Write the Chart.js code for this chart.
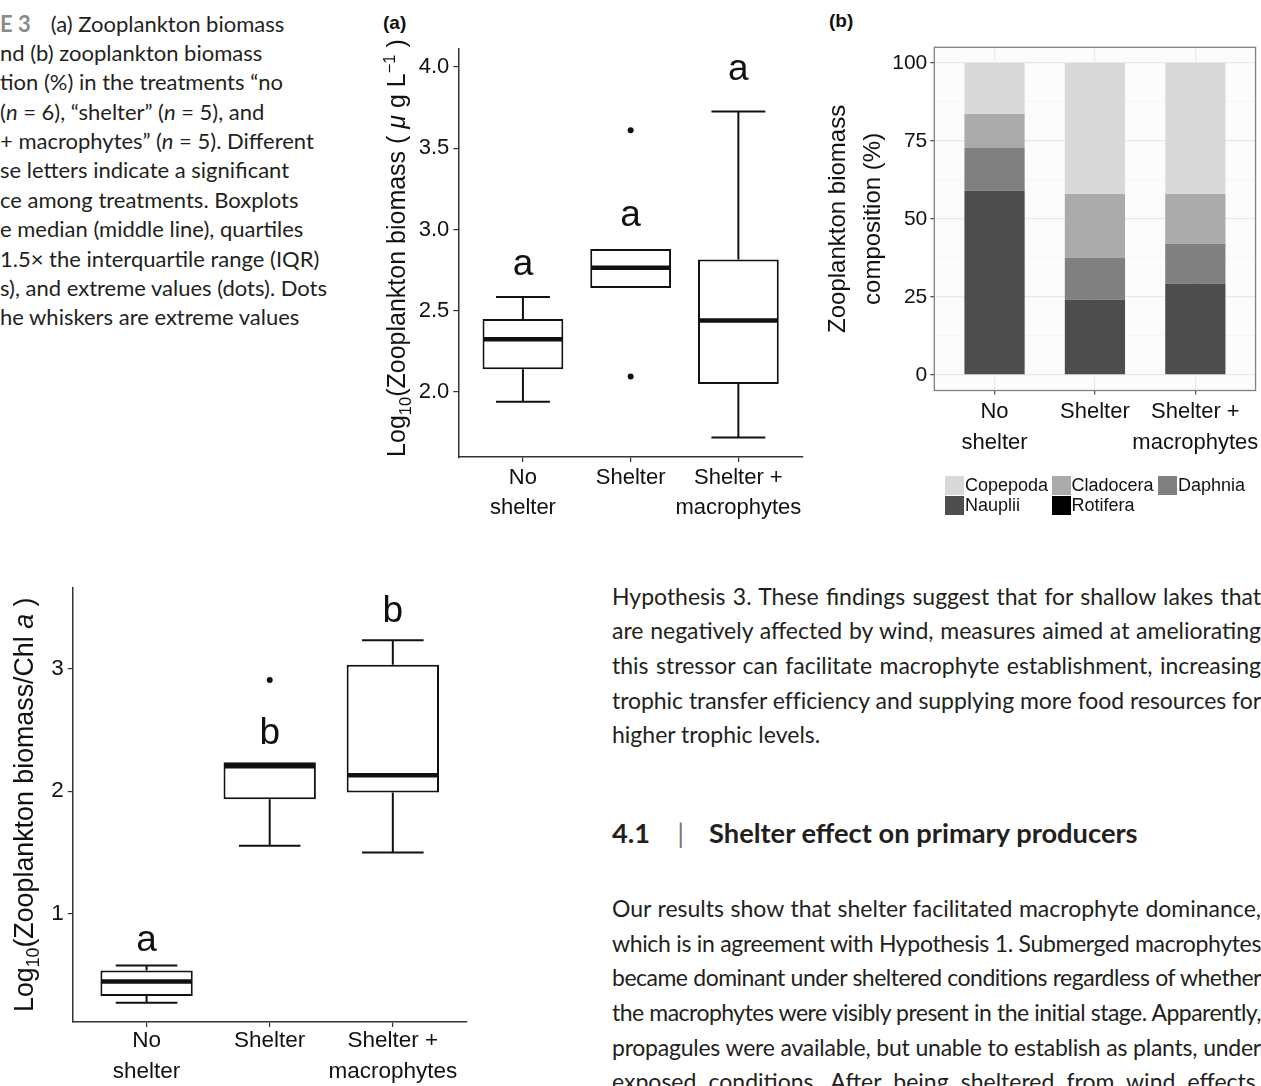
<!DOCTYPE html>
<html lang="en">
<head>
<meta charset="UTF-8">
<title>Zooplankton biomass</title>
<script src="https://cdn.jsdelivr.net/npm/chart.js"></script>
<style>
  body { margin:0; width:1261px; height:1086px; position:relative; overflow:hidden; background:#fff; font-family:Lato, sans-serif; color:#231f20; }
  .abs { position:absolute; }
  .cap div { white-space:nowrap; height:29.4px; }
  .para div { width:649px; white-space:nowrap; height:34.7px; text-align:justify; text-align-last:justify; overflow:hidden; }
  .para div.last { text-align-last:left; }
  .lab { font-family:"Liberation Sans", Arial, sans-serif; font-weight:bold; font-size:19px; color:#111; }
  #legendB { font-family:"Liberation Sans", Arial, sans-serif; font-size:18px; color:#111; display:grid; grid-template-columns:106.5px 106.5px 106.5px; row-gap:1px; }
  #legendB span { display:flex; align-items:center; height:19px; }
  #legendB i { display:inline-block; width:19px; height:19px; margin-right:1px; }
</style>
</head>
<body>

<div class="abs cap" style="left:0;top:8.5px;font-size:22px;line-height:29.4px;">
  <div><b style="color:#8a8a8a;">E 3</b><span style="margin-left:20px;">(a) Zooplankton biomass</span></div>
  <div>nd (b) zooplankton biomass</div>
  <div>tion (%) in the treatments “no</div>
  <div>(<i>n</i> = 6), “shelter” (<i>n</i> = 5), and</div>
  <div>+ macrophytes” (<i>n</i> = 5). Different</div>
  <div>se letters indicate a significant</div>
  <div>ce among treatments. Boxplots</div>
  <div>e median (middle line), quartiles</div>
  <div>1.5× the interquartile range (IQR)</div>
  <div>s), and extreme values (dots). Dots</div>
  <div>he whiskers are extreme values</div>
</div>

<div class="abs lab" style="left:383px;top:12px;">(a)</div>
<div class="abs lab" style="left:829px;top:10px;">(b)</div>

<canvas id="chartA" class="abs" style="left:380px;top:0;" width="440" height="530"></canvas>
<canvas id="chartB" class="abs" style="left:820px;top:0;" width="441" height="530"></canvas>
<div id="legendB" class="abs" style="left:945px;top:475.5px;"></div>
<canvas id="chartC" class="abs" style="left:0;top:570px;" width="480" height="516"></canvas>

<div class="abs para" style="left:612px;top:578.7px;font-size:23px;line-height:34.7px;">
  <div>Hypothesis 3. These findings suggest that for shallow lakes that</div>
  <div>are negatively affected by wind, measures aimed at ameliorating</div>
  <div>this stressor can facilitate macrophyte establishment, increasing</div>
  <div>trophic transfer efficiency and supplying more food resources for</div>
  <div class="last">higher trophic levels.</div>
</div>

<div class="abs" style="left:612px;top:816.5px;font-size:27.3px;line-height:1.2;font-weight:bold;white-space:nowrap;">
  4.1<span style="font-weight:400;color:#777;margin:0 25px 0 27px;">|</span>Shelter effect on primary producers
</div>

<div class="abs para" style="left:612px;top:891px;font-size:23px;line-height:34.7px;">
  <div>Our results show that shelter facilitated macrophyte dominance,</div>
  <div>which is in agreement with Hypothesis 1. Submerged macrophytes</div>
  <div>became dominant under sheltered conditions regardless of whether</div>
  <div>the macrophytes were visibly present in the initial stage. Apparently,</div>
  <div>propagules were available, but unable to establish as plants, under</div>
  <div>exposed conditions. After being sheltered from wind effects,</div>
</div>

<script>
// treatments (x categories)
const treatments = [['No', 'shelter'], 'Shelter', ['Shelter +', 'macrophytes']];

// (a) log10 zooplankton biomass (ug/L)
const bioLow  = [1.94, 2.64, 1.72];
const bioQ1   = [2.14, 2.64, 2.05];
const bioMed  = [2.325, 2.765, 2.44];
const bioQ3   = [2.45, 2.88, 2.815];
const bioHigh = [2.585, 2.88, 3.725];
const bioOutX = [2, 2];
const bioOutY = [3.61, 2.095];
const bioLetters = ['a', 'a', 'a'];
const bioLetterY = [2.72, 3.02, 3.92];
const bioTicks = [2.0, 2.5, 3.0, 3.5, 4.0];

// (b) biomass composition (%)
const taxa = ['Copepoda', 'Cladocera', 'Daphnia', 'Nauplii', 'Rotifera'];
const copepoda  = [16.4, 42.0, 42.0];
const cladocera = [10.9, 20.4, 16.0];
const daphnia   = [13.7, 13.5, 12.7];
const nauplii   = [59.0, 24.1, 29.3];
const rotifera  = [0, 0, 0];
const taxaColors = ['#d9d9d9', '#ababab', '#808080', '#4d4d4d', '#000000'];
const compTicks = [0, 12.5, 25, 37.5, 50, 62.5, 75, 87.5, 100];

// (c) log10 zooplankton biomass / Chl a
const chlLow  = [0.27, 1.555, 1.50];
const chlQ1   = [0.325, 1.935, 1.99];
const chlMed  = [0.445, 2.205, 2.13];
const chlQ3   = [0.535, 2.238, 3.035];
const chlHigh = [0.575, 2.238, 3.235];
const chlOutX = [2];
const chlOutY = [2.91];
const chlLetters = ['a', 'b', 'b'];
const chlLetterY = [0.69, 2.39, 3.38];
const chlTicks = [1, 2, 3];

const FONT = '"Liberation Sans", Arial, sans-serif';
const INK = '#111';
const catPos = treatments.map((t, i) => i + 1);

// squeeze justified lines that are a little too long for the column
document.querySelectorAll('.para div').forEach(el => {
  const over = el.scrollWidth - el.clientWidth;
  if (over > 0) el.style.letterSpacing = (-(over + 2) / el.textContent.trim().length) + 'px';
});

// whiskers, caps, medians and letters of a boxplot
const boxParts = {
  id: 'boxParts',
  afterDatasetsDraw(chart, args, o) {
    if (!o.med) return;
    const {ctx, scales: {x, y}} = chart;
    ctx.save();
    ctx.strokeStyle = INK;
    ctx.lineCap = 'butt';
    o.med.forEach((m, i) => {
      const c = x.getPixelForValue(catPos[i]);
      const l = x.getPixelForValue(catPos[i] - 0.25), r = x.getPixelForValue(catPos[i] + 0.25);
      ctx.lineWidth = 2;
      ctx.beginPath();
      ctx.moveTo(c, y.getPixelForValue(o.q3[i])); ctx.lineTo(c, y.getPixelForValue(o.high[i]));
      ctx.moveTo(c, y.getPixelForValue(o.q1[i])); ctx.lineTo(c, y.getPixelForValue(o.low[i]));
      if (o.high[i] > o.q3[i]) { ctx.moveTo(l, y.getPixelForValue(o.high[i])); ctx.lineTo(r, y.getPixelForValue(o.high[i])); }
      if (o.low[i] < o.q1[i]) { ctx.moveTo(l, y.getPixelForValue(o.low[i])); ctx.lineTo(r, y.getPixelForValue(o.low[i])); }
      ctx.stroke();
      ctx.lineWidth = 4.5;
      ctx.beginPath();
      ctx.moveTo(x.getPixelForValue(catPos[i] - 0.375) + 1, y.getPixelForValue(m));
      ctx.lineTo(x.getPixelForValue(catPos[i] + 0.375) - 1, y.getPixelForValue(m));
      ctx.stroke();
    });
    ctx.fillStyle = INK;
    ctx.font = '37px ' + FONT;
    ctx.textAlign = 'center';
    ctx.textBaseline = 'alphabetic';
    o.letters.forEach((s, i) => ctx.fillText(s, x.getPixelForValue(catPos[i]), y.getPixelForValue(o.letterY[i])));
    ctx.restore();
  }
};

// rotated y title with sub/superscripts
const richTitle = {
  id: 'richTitle',
  afterDraw(chart, args, o) {
    if (!o.lines) return;
    const {ctx, chartArea} = chart;
    const fnt = p => (p.it ? 'italic ' : '') + (p.sm ? o.size * 0.66 : o.size) + 'px ' + FONT;
    ctx.save();
    ctx.translate(0, (chartArea.top + chartArea.bottom) / 2 - (o.lift || 0));
    ctx.rotate(-Math.PI / 2);
    ctx.fillStyle = INK;
    ctx.textBaseline = 'alphabetic';
    o.lines.forEach((parts, k) => {
      let w = 0;
      parts.forEach(p => { ctx.font = fnt(p); w += ctx.measureText(p.t).width; });
      let cx = -w / 2;
      parts.forEach(p => {
        ctx.font = fnt(p);
        ctx.fillText(p.t, cx, o.base[k] + (p.dy || 0) * o.size);
        cx += ctx.measureText(p.t).width;
      });
    });
    ctx.restore();
  }
};

// grey panel with frame in (b)
const panelFrame = {
  id: 'panelFrame',
  beforeDraw(chart, args, o) {
    if (!o.on) return;
    const {ctx, chartArea: a} = chart;
    ctx.save();
    ctx.fillStyle = '#fcfcfc';
    ctx.fillRect(a.left, a.top, a.width, a.height);
    ctx.restore();
  },
  afterDraw(chart, args, o) {
    if (!o.on) return;
    const {ctx, chartArea: a} = chart;
    ctx.save();
    ctx.strokeStyle = '#808080';
    ctx.lineWidth = 1.3;
    ctx.strokeRect(a.left, a.top, a.width, a.height);
    ctx.restore();
  }
};
Chart.register(boxParts, richTitle, panelFrame);

const catAxis = (size, pad, lh) => ({
  type: 'linear', min: 0.4, max: 3.6, offset: false,
  afterBuildTicks: s => { s.ticks = catPos.map(v => ({value: v})); },
  ticks: { color: INK, font: {family: FONT, size: size, lineHeight: lh}, padding: pad, maxRotation: 0, autoSkip: false,
           callback: v => treatments[v - 1] },
});

const makeBoxChart = (id, d, yMin, yMax, yTicks, fmt, sizes, title) => new Chart(document.getElementById(id), {
  type: 'bar',
  data: {
    datasets: [{
      data: catPos.map((v, i) => ({x: v, y: [d.q1[i], d.q3[i]]})),
      backgroundColor: '#fff', borderColor: INK, borderWidth: 2, borderSkipped: false,
      barPercentage: 0.75, categoryPercentage: 1,
    }, {
      type: 'scatter',
      data: d.outX.map((v, i) => ({x: v, y: d.outY[i]})),
      pointRadius: 3, backgroundColor: INK, borderWidth: 0,
    }]
  },
  options: {
    responsive: false, animation: false,
    layout: { padding: sizes.pad },
    plugins: {
      legend: {display: false}, tooltip: {enabled: false},
      boxParts: {low: d.low, q1: d.q1, med: d.med, q3: d.q3, high: d.high, letters: d.letters, letterY: d.letterY},
      richTitle: title,
    },
    scales: {
      x: Object.assign(catAxis(sizes.tick, sizes.xPad, sizes.lh), {
        grid: {drawOnChartArea: false, offset: false, tickLength: 5, color: '#333', lineWidth: 1.2},
        border: {color: '#333', width: 1.5},
        afterFit: s => { s.height = sizes.xH; },
      }),
      y: {
        min: yMin, max: yMax,
        afterBuildTicks: s => { s.ticks = yTicks.map(v => ({value: v})); },
        ticks: {color: INK, font: {family: FONT, size: sizes.tick}, padding: 4, callback: fmt},
        grid: {drawOnChartArea: false, tickLength: 5, color: '#333', lineWidth: 1.2},
        border: {color: '#333', width: 1.5},
        afterFit: s => { s.width = sizes.yW; },
      }
    }
  }
});

makeBoxChart('chartA',
  {low: bioLow, q1: bioQ1, med: bioMed, q3: bioQ3, high: bioHigh, outX: bioOutX, outY: bioOutY, letters: bioLetters, letterY: bioLetterY},
  1.6, 4.11, bioTicks, v => v.toFixed(1),
  {pad: {top: 49, right: 17}, tick: 22, xPad: 0, lh: 1.4, xH: 72.9, yW: 78.3},
  {size: 25, base: [25], lift: 5, lines: [[
    {t: 'Log'}, {t: '10', sm: 1, dy: 0.22}, {t: '(Zooplankton biomass ( '}, {t: 'μ', it: 1},
    {t: ' g L'}, {t: '−1', sm: 1, dy: -0.42}, {t: ' )'}]]});

makeBoxChart('chartC',
  {low: chlLow, q1: chlQ1, med: chlMed, q3: chlQ3, high: chlHigh, outX: chlOutX, outY: chlOutY, letters: chlLetters, letterY: chlLetterY},
  0.113, 3.666, chlTicks, v => String(v),
  {pad: {top: 16.7, right: 13.3}, tick: 22.5, xPad: -1, lh: 1.35, xH: 64, yW: 72.7},
  {size: 26.8, base: [33], lines: [[
    {t: 'Log'}, {t: '10', sm: 1, dy: 0.22}, {t: '(Zooplankton biomass/Chl '}, {t: 'a', it: 1}, {t: ' )'}]]});

// (b) stacked composition; Rotifera sits at the bottom of the stack
const compSeries = [rotifera, nauplii, daphnia, cladocera, copepoda];
const compNames = [taxa[4], taxa[3], taxa[2], taxa[1], taxa[0]];
const compColors = [taxaColors[4], taxaColors[3], taxaColors[2], taxaColors[1], taxaColors[0]];

const chartB = new Chart(document.getElementById('chartB'), {
  type: 'bar',
  data: {
    datasets: compSeries.map((s, k) => ({
      label: compNames[k],
      data: catPos.map((v, i) => ({x: v, y: s[i]})),
      backgroundColor: compColors[k], borderWidth: 0,
      barPercentage: 0.6, categoryPercentage: 1,
    }))
  },
  options: {
    responsive: false, animation: false,
    layout: {padding: {top: 47.3, right: 3.7}},
    plugins: {
      legend: {display: false}, tooltip: {enabled: false},
      panelFrame: {on: true},
      richTitle: {size: 24, base: [25.3, 60.3], lines: [[{t: 'Zooplankton biomass'}], [{t: 'composition (%)'}]]},
    },
    scales: {
      x: Object.assign(catAxis(22, 2, 1.4), {
        stacked: true,
        grid: {color: '#ebebeb', offset: false, lineWidth: 1.3, tickLength: 4, tickColor: '#555'},
        border: {display: false},
        afterFit: s => { s.height = 139.5; },
      }),
      y: {
        stacked: true, min: -5, max: 105,
        afterBuildTicks: s => { s.ticks = compTicks.map(v => ({value: v})); },
        ticks: {color: INK, font: {family: FONT, size: 21}, padding: 3,
                callback: v => (v % 25 === 0 ? String(v) : '')},
        grid: {
          color: c => (c.tick && c.tick.value % 25 === 0 ? '#e8e8e8' : '#f3f3f3'),
          tickColor: c => (c.tick && c.tick.value % 25 === 0 ? '#555' : 'rgba(0,0,0,0)'),
          lineWidth: c => (c.tick && c.tick.value % 25 === 0 ? 1.3 : 0.8),
          tickLength: 4,
        },
        border: {display: false},
        afterFit: s => { s.width = 114.3; },
      }
    }
  }
});

// legend grid built from the chart's own datasets (Copepoda first)
const legendBox = document.getElementById('legendB');
chartB.data.datasets.slice().reverse().forEach(ds => {
  const item = document.createElement('span');
  const key = document.createElement('i');
  key.style.background = ds.backgroundColor;
  item.appendChild(key);
  item.appendChild(document.createTextNode(ds.label));
  legendBox.appendChild(item);
});
</script>
</body>
</html>
